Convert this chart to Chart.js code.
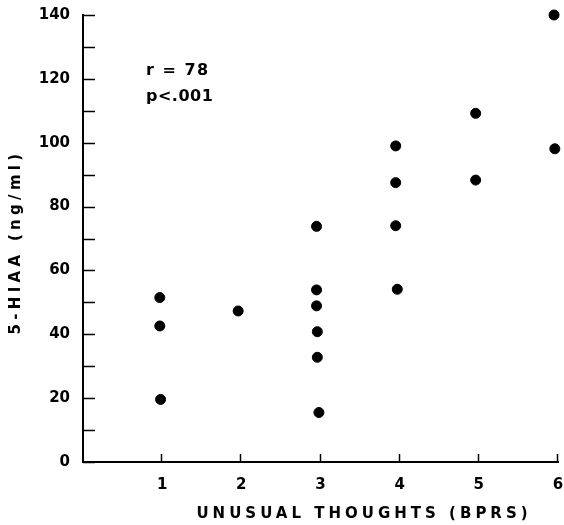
<!DOCTYPE html>
<html>
<head>
<meta charset="utf-8">
<script src="https://cdn.jsdelivr.net/npm/chart.js@4"></script>
<style>
  html, body { margin: 0; padding: 0; background: #fff; }
  #wrap { width: 564px; height: 525px; }
</style>
</head>
<body>
<div id="wrap"><canvas id="scatterChart" width="564" height="525"></canvas></div>
<script>
// Data
const unusualThoughts = [0.97, 0.97, 0.98, 1.96, 2.95, 2.95, 2.95, 2.96, 2.96, 2.98, 3.95, 3.95, 3.95, 3.97, 4.96, 4.96, 5.95, 5.96];
const hiaa = [51.5, 42.6, 19.6, 47.3, 73.8, 53.9, 48.9, 40.8, 32.8, 15.5, 99, 87.5, 74, 54.1, 109.2, 88.3, 140, 98.1];
const xTickLabels = ['1', '2', '3', '4', '5', '6'];
const yTickLabels = ['0', '20', '40', '60', '80', '100', '120', '140'];

const points = unusualThoughts.map(function (x, i) {
    return { x: x, y: hiaa[i] };
});

const fontFamily = '"DejaVu Sans", sans-serif';

// tick marks pointing into the plot, plus the spaced-out axis titles and stats note
const insideTicks = {
    id: 'insideTicks',
    afterDraw: function (chart) {
        const ctx = chart.ctx;
        const xs = chart.scales.x;
        const ys = chart.scales.y;
        const area = chart.chartArea;

        ctx.save();
        ctx.strokeStyle = '#000';
        ctx.lineWidth = 1.5;
        ys.ticks.forEach(function (t) {
            const py = Math.round(ys.getPixelForValue(t.value)) + 0.5;
            ctx.beginPath();
            ctx.moveTo(area.left, py);
            ctx.lineTo(area.left + 12, py);
            ctx.stroke();
        });
        xs.ticks.forEach(function (t) {
            if (t.value === 0) return;
            const px = Math.round(xs.getPixelForValue(t.value)) - 0.5;
            ctx.beginPath();
            ctx.moveTo(px, area.bottom);
            ctx.lineTo(px, area.bottom - 8);
            ctx.stroke();
        });

        ctx.fillStyle = '#000';
        ctx.font = 'bold 16px ' + fontFamily;
        ctx.textBaseline = 'middle';
        ctx.textAlign = 'left';
        ctx.letterSpacing = '1.5px';
        ctx.fillText('r = 78', 146, 71);
        ctx.letterSpacing = '0.5px';
        ctx.fillText('p<.001', 146, 97);

        ctx.font = 'bold 15px ' + fontFamily;
        ctx.letterSpacing = '4px';
        ctx.textAlign = 'center';
        ctx.fillText('UNUSUAL THOUGHTS (BPRS)', 364, 514);

        ctx.translate(16, 244);
        ctx.rotate(-Math.PI / 2);
        ctx.letterSpacing = '4.3px';
        ctx.fillText('5-HIAA (ng/ml)', 2, 0);
        ctx.restore();
    }
};

const ctx = document.getElementById('scatterChart').getContext('2d');

const scatterChart = new Chart(ctx, {
    type: 'scatter',
    data: {
        datasets: [{
            data: points,
            backgroundColor: '#000',
            borderColor: '#000',
            pointRadius: 5,
            pointHoverRadius: 5,
            clip: false
        }]
    },
    options: {
        responsive: false,
        animation: false,
        layout: {
            padding: { top: 15, right: 6, left: 0, bottom: 0 }
        },
        plugins: {
            legend: { display: false },
            tooltip: { enabled: false }
        },
        scales: {
            x: {
                type: 'linear',
                min: 0,
                max: 6,
                grid: { display: false, drawTicks: false },
                border: { display: true, color: '#000', width: 2 },
                ticks: {
                    stepSize: 1,
                    padding: 14,
                    color: '#000',
                    font: { family: fontFamily, size: 15, weight: 'bold' },
                    maxRotation: 0,
                    callback: function (value) {
                        return xTickLabels.indexOf(String(value)) >= 0 ? String(value) : '';
                    }
                },
                afterFit: function (scale) {
                    scale.height = 63;
                    scale.paddingLeft = 0;
                    scale.paddingRight = 0;
                }
            },
            y: {
                type: 'linear',
                min: 0,
                max: 140,
                grid: { display: false, drawTicks: false },
                border: { display: true, color: '#000', width: 2 },
                ticks: {
                    stepSize: 10,
                    padding: 13,
                    color: '#000',
                    autoSkip: false,
                    font: { family: fontFamily, size: 15, weight: 'bold' },
                    callback: function (value) {
                        return yTickLabels.indexOf(String(value)) >= 0 ? String(value) : '';
                    }
                },
                afterFit: function (scale) {
                    scale.width = 83;
                    scale.paddingTop = 0;
                    scale.paddingBottom = 0;
                }
            }
        }
    },
    plugins: [insideTicks]
});
</script>
</body>
</html>
